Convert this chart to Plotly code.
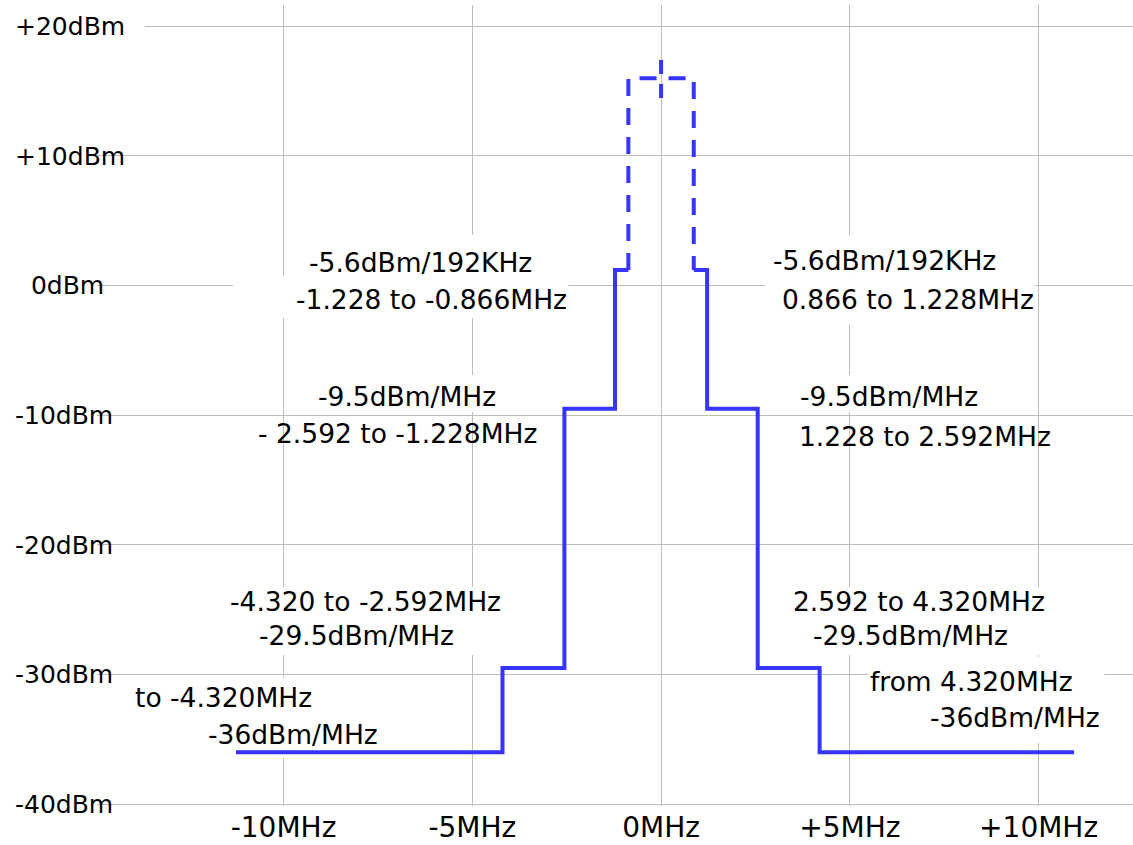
import plotly.graph_objects as go

# ---- data ----
# left skirt: step edges (MHz) and levels (dBm/MHz)
left_edges_mhz = [-11.26, -4.2, -2.56, -1.22, -0.866]
left_levels_dbm = [-36, -29.5, -9.5, 1.2, 1.2]
# right skirt
right_edges_mhz = [0.866, 1.22, 2.56, 4.2, 10.94]
right_levels_dbm = [1.2, 1.2, -9.5, -29.5, -36]
# in-band (dashed) block
inband_x_mhz = [-0.866, -0.866, 0.866, 0.866]
inband_dbm = [1.2, 16.0, 16.0, 1.2]
# carrier marker (dashed, at centre)
carrier_x_mhz = [0, 0]
carrier_dbm = [17.4, 14.4]

x_tick_vals = [-10, -5, 0, 5, 10]
x_tick_text = ["-10MHz", "-5MHz", "0MHz", "+5MHz", "+10MHz"]
y_tick_vals = [20, 10, 0, -10, -20, -30, -40]
y_tick_text = ["+20dBm", "+10dBm", "\u00a0\u00a00dBm", "-10dBm", "-20dBm", "-30dBm", "-40dBm"]

# annotation texts and anchor positions (MHz, dBm)
label_text = [
    "-5.6dBm/192KHz", "-1.228 to -0.866MHz", "-9.5dBm/MHz", "- 2.592 to -1.228MHz",
    "-5.6dBm/192KHz", "0.866 to 1.228MHz", "-9.5dBm/MHz", "1.228 to 2.592MHz",
    "-4.320 to -2.592MHz", "-29.5dBm/MHz", "to -4.320MHz", "-36dBm/MHz",
    "2.592 to 4.320MHz", "-29.5dBm/MHz", "from 4.320MHz", "-36dBm/MHz",
]
label_x = [-6.38, -6.07, -6.73, -6.99,
           5.93, 6.54, 6.04, 6.99,
           -7.84, -8.08, -11.58, -9.75,
           6.83, 6.60, 8.21, 9.38]
label_y = [1.82, -1.11, -8.52, -11.45,
           1.90, -1.11, -8.52, -11.68,
           -24.41, -26.96, -31.82, -34.60,
           -24.41, -26.96, -30.51, -33.29]

# white backing boxes behind labels (x0, x1, y0, y1 in MHz / dBm)
box_x0 = [-9.56, -11.34, -9.25, 2.83, 2.75, 3.55, -11.55, -14.01, 3.42, 5.48, -14.94]
box_x1 = [-3.21, -2.46, -4.26, 9.03, 9.91, 8.58, -4.13, -7.44, 10.25, 11.74, -13.67]
box_y0 = [0.6, -2.50, -9.75, 0.6, -3.04, -9.75, -28.50, -36.45, -28.50, -35.29, 19.41]
box_y1 = [3.90, 0.74, -6.90, 3.90, 0.59, -6.90, -23.26, -30.28, -23.26, -28.66, 20.65]

BLUE = "#3535ff"
FONT = "DejaVu Sans"
X_RANGE = [-14.94, 12.50]
Y_RANGE = [-40.154, 21.65]

fig = go.Figure()

fig.add_trace(go.Scatter(x=left_edges_mhz, y=left_levels_dbm, mode="lines",
                         line=dict(color=BLUE, width=4, shape="hv"),
                         hoverinfo="skip", showlegend=False))
fig.add_trace(go.Scatter(x=right_edges_mhz, y=right_levels_dbm, mode="lines",
                         line=dict(color=BLUE, width=4, shape="vh"),
                         hoverinfo="skip", showlegend=False))
fig.add_trace(go.Scatter(x=inband_x_mhz, y=inband_dbm, mode="lines",
                         line=dict(color=BLUE, width=4, dash="17px,12px"),
                         hoverinfo="skip", showlegend=False))
fig.add_trace(go.Scatter(x=carrier_x_mhz, y=carrier_dbm, mode="lines",
                         line=dict(color=BLUE, width=4, dash="14px,10px"),
                         hoverinfo="skip", showlegend=False))
# invisible helper trace so that the label axis (y2) is drawn
fig.add_trace(go.Scatter(x=[x_tick_vals[2]] * len(y_tick_vals), y=y_tick_vals, yaxis="y2",
                         mode="markers", marker=dict(opacity=0, size=1),
                         hoverinfo="skip", showlegend=False))

shapes = []
for x0, x1, y0, y1 in zip(box_x0, box_x1, box_y0, box_y1):
    shapes.append(dict(type="rect", xref="x", yref="y", x0=x0, x1=x1, y0=y0, y1=y1,
                       fillcolor="white", line=dict(width=0), layer="between"))

annotations = []
for t, x, y in zip(label_text, label_x, label_y):
    annotations.append(dict(text=t, x=x, y=y, xref="x", yref="y", showarrow=False,
                            xanchor="center", yanchor="middle",
                            font=dict(family=FONT, size=26.5, color="black")))

fig.update_layout(
    width=1133, height=845,
    margin=dict(l=97, r=0, t=5, b=39),
    paper_bgcolor="white", plot_bgcolor="white",
    showlegend=False,
    shapes=shapes,
    annotations=annotations,
    xaxis=dict(range=X_RANGE, tickvals=x_tick_vals, ticktext=x_tick_text,
               showgrid=True, gridcolor="#bdbdbd", gridwidth=1.3,
               zeroline=False, showline=False, ticks="",
               tickfont=dict(family=FONT, size=28, color="black"),
               ticklabelstandoff=2, automargin=False, fixedrange=True),
    yaxis=dict(range=Y_RANGE, tickvals=y_tick_vals, ticktext=y_tick_text,
               showgrid=True, gridcolor="#bdbdbd", gridwidth=1.3,
               zeroline=False, showline=False, ticks="", showticklabels=False,
               automargin=False, fixedrange=True),
    yaxis2=dict(range=Y_RANGE, overlaying="y", side="right", anchor="free", position=0,
                tickvals=y_tick_vals, ticktext=y_tick_text,
                showgrid=False, zeroline=False, showline=False, ticks="",
                tickfont=dict(family=FONT, size=25, color="black"),
                ticklabelstandoff=-83, automargin=False, fixedrange=True),
)

fig.write_html("out.html")
